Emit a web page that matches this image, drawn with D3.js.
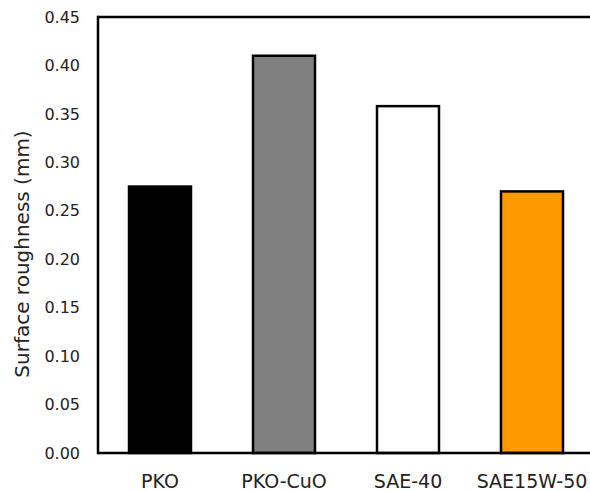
<!DOCTYPE html>
<html><head><meta charset="utf-8">
<script src="https://cdn.jsdelivr.net/npm/d3@7"></script>
<style>body{margin:0;background:#fff}svg{display:block}text{font-family:"DejaVu Sans",sans-serif;fill:#222}</style>
</head><body><svg id="c" width="590" height="491"></svg>
<script>
const categories = ["PKO","PKO-CuO","SAE-40","SAE15W-50"];
const values = [0.275, 0.41, 0.358, 0.27];
const colors = ["#000000","#808080","#ffffff","#ff9900"];
const yTicks = [0,0.05,0.10,0.15,0.20,0.25,0.30,0.35,0.40,0.45];
const yTitle = "Surface roughness (mm)";

const svg = d3.select("#c");
const L = 98, R = 594, T = 17, B = 453;
const x = d3.scaleBand().domain(categories).range([L, R]).paddingInner(0.5).paddingOuter(0.25);
const y = d3.scaleLinear().domain([0, 0.45]).range([B, T]);

svg.selectAll("rect.bar").data(categories).enter().append("rect")
  .attr("class","bar")
  .attr("x", d => x(d))
  .attr("width", x.bandwidth())
  .attr("y", (d,i) => y(values[i]))
  .attr("height", (d,i) => B - y(values[i]))
  .attr("fill", (d,i) => colors[i])
  .attr("stroke", "#000").attr("stroke-width", 2.5);

// frame
svg.append("line").attr("x1", L).attr("x2", 590).attr("y1", T).attr("y2", T).attr("stroke","#000").attr("stroke-width",2.5);
svg.append("line").attr("x1", L).attr("x2", L).attr("y1", T-1.25).attr("y2", B+1.25).attr("stroke","#000").attr("stroke-width",2.5);
svg.append("line").attr("x1", L).attr("x2", 590).attr("y1", B).attr("y2", B).attr("stroke","#000").attr("stroke-width",2.5);

const ya = d3.axisLeft(y).tickValues(yTicks).tickFormat(d3.format(".2f")).tickSize(0).tickPadding(18);
const gy = svg.append("g").attr("transform", `translate(${L},0)`).call(ya);
gy.select(".domain").remove();
gy.selectAll("text").style("font-size","16px").style("font-family",'"DejaVu Sans",sans-serif').attr("fill","#222");

const xa = d3.axisBottom(x).tickSize(0);
const gx = svg.append("g").attr("transform", `translate(0,${B})`).call(xa);
gx.select(".domain").remove();
gx.selectAll("text").attr("y", 35).attr("dy", 0).style("font-size","19px").style("font-family",'"DejaVu Sans",sans-serif').attr("fill","#222");

svg.append("text").attr("transform", `translate(29,254) rotate(-90)`)
  .attr("text-anchor","middle").style("font-size","20px").text(yTitle);
</script></body></html>
